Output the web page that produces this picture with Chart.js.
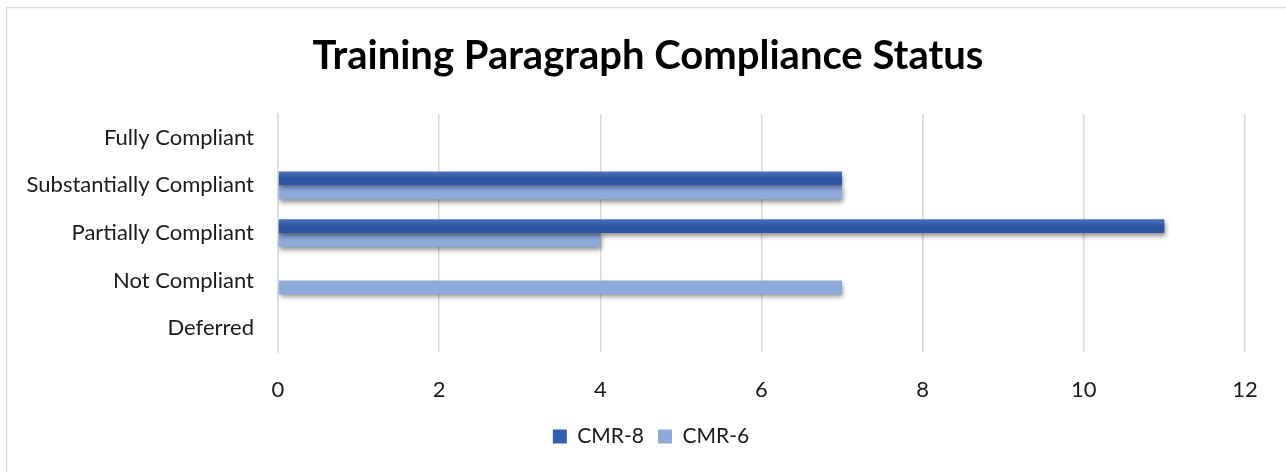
<!DOCTYPE html>
<html>
<head>
<meta charset="utf-8">
<script src="https://cdn.jsdelivr.net/npm/chart.js@4/dist/chart.umd.min.js"></script>
<style>
  html, body { margin: 0; padding: 0; background: #fff; }
  #wrap { width: 1286px; height: 472px; }
</style>
</head>
<body>
<div id="wrap"><canvas id="chart" width="1286" height="472"></canvas></div>
<script>
const categories = ["Fully Compliant", "Substantially Compliant", "Partially Compliant", "Not Compliant", "Deferred"];
const cmr8 = [0, 7, 11, 0, 0];
const cmr6 = [0, 7, 4, 7, 0];
const xTicks = [0, 2, 4, 6, 8, 10, 12];
const titleText = "Training Paragraph Compliance Status";

const DARK_TOP = "#4d73ba";
const DARK_BOT = "#2d55a1";
const DARK = "#3560ad";
const LIGHT = "#8eaadb";
const GRID = "#d9d9d9";
const FONT = "Lato, 'Open Sans', sans-serif";
const CAT_PCT = 0.58;
const MID_SHIFT = 5;    // frame runs off the right edge, so its centre sits a bit right
const LEGEND_SHIFT = 8;

// per-bar vertical gradient for the darker series, worked out from the band
function darkFill(c) {
  const chart = c.chart;
  const y = chart.scales.y;
  if (!y || c.dataIndex === undefined) return DARK;
  const mid = y.getPixelForValue(c.dataIndex);
  const band = (y.bottom - y.top) / categories.length * CAT_PCT;
  const g = chart.ctx.createLinearGradient(0, mid - band / 2, 0, mid);
  g.addColorStop(0, DARK_TOP);
  g.addColorStop(0.5, DARK_BOT);
  g.addColorStop(1, DARK_BOT);
  return g;
}

// white background, thin frame and the centred title
const frame = {
  id: "frame",
  beforeDraw(chart) {
    const ctx = chart.ctx;
    ctx.save();
    ctx.fillStyle = "#fff";
    ctx.fillRect(0, 0, chart.width, chart.height);
    ctx.strokeStyle = GRID;
    ctx.lineWidth = 1.5;
    ctx.strokeRect(6.5, 7.5, chart.width + 10, chart.height + 10);
    ctx.fillStyle = "#000";
    ctx.font = "bold 40px " + FONT;
    ctx.textAlign = "center";
    ctx.textBaseline = "middle";
    ctx.fillText(titleText, chart.width / 2 + MID_SHIFT, 56);
    ctx.restore();
  },
  // centre the legend on the whole canvas rather than the padded box
  afterLayout(chart) {
    const lg = chart.legend;
    if (!lg) return;
    lg.left = LEGEND_SHIFT * 2;
    lg.right = chart.width;
    lg.adjustHitBoxes();
  },
};

// soft drop shadow under the bars
const barShadow = {
  id: "barShadow",
  beforeDatasetsDraw(chart) {
    const ctx = chart.ctx;
    ctx.save();
    ctx.shadowColor = "rgba(0,0,0,0.45)";
    ctx.shadowBlur = 5;
    ctx.shadowOffsetX = 1;
    ctx.shadowOffsetY = 3;
  },
  afterDatasetsDraw(chart) {
    chart.ctx.restore();
  },
};

new Chart(document.getElementById("chart"), {
  type: "bar",
  data: {
    labels: categories,
    datasets: [
      { label: "CMR-8", data: cmr8, backgroundColor: darkFill },
      { label: "CMR-6", data: cmr6, backgroundColor: LIGHT },
    ],
  },
  options: {
    indexAxis: "y",
    responsive: false,
    animation: false,
    events: [],
    categoryPercentage: CAT_PCT,
    barPercentage: 1.0,
    layout: { padding: { left: 0, right: 41, top: 114, bottom: 15 } },
    plugins: {
      title: { display: false },
      legend: {
        position: "bottom",
        labels: {
          color: "#1a1a1a",
          font: { family: FONT, size: 21 },
          boxWidth: 14,
          boxHeight: 14,
          padding: 14,
          generateLabels(chart) {
            return chart.data.datasets.map((d, i) => ({
              text: d.label,
              fillStyle: i === 0 ? DARK : LIGHT,
              strokeStyle: "transparent",
              lineWidth: 0,
              datasetIndex: i,
              fontColor: "#1a1a1a",
            }));
          },
        },
      },
      tooltip: { enabled: false },
    },
    scales: {
      x: {
        min: 0,
        max: 12,
        afterBuildTicks(scale) {
          scale.ticks = xTicks.map((v) => ({ value: v }));
        },
        afterFit(scale) { scale.height = 60; },
        grid: { color: GRID, lineWidth: 1.5, drawTicks: false },
        border: { display: false },
        ticks: {
          color: "#1a1a1a",
          font: { family: FONT, size: 22 },
          padding: 25,
        },
      },
      y: {
        afterFit(scale) { scale.width = 278; },
        grid: { display: false, drawTicks: false },
        border: { display: true, color: GRID, width: 1.5 },
        ticks: {
          color: "#1a1a1a",
          font: { family: FONT, size: 22 },
          padding: 24,
        },
      },
    },
  },
  plugins: [frame, barShadow],
});
</script>
</body>
</html>
